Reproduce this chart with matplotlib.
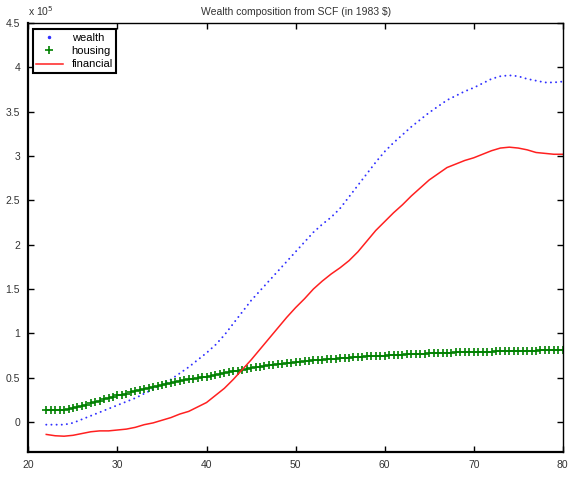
import numpy as np
import matplotlib
matplotlib.use("Agg")
import matplotlib.pyplot as plt
from matplotlib.lines import Line2D
from matplotlib.ticker import FuncFormatter

plt.rcParams['font.family'] = ['Liberation Sans', 'DejaVu Sans']

# ages (yearly) for wealth / financial, half-year for housing
age = list(range(22, 81))

# values in units of 1e5 (1983 $)
wealth = [-0.03, -0.03, -0.03, -0.01, 0.03, 0.07, 0.11, 0.15, 0.19, 0.23,
          0.27, 0.32, 0.37, 0.42, 0.48, 0.55, 0.62, 0.70, 0.78, 0.87,
          0.98, 1.11, 1.24, 1.37, 1.48, 1.59, 1.70, 1.81, 1.92, 2.03,
          2.14, 2.23, 2.31, 2.41, 2.54, 2.67, 2.80, 2.93, 3.05, 3.15,
          3.24, 3.33, 3.41, 3.49, 3.56, 3.63, 3.68, 3.73, 3.77, 3.82,
          3.87, 3.90, 3.91, 3.90, 3.87, 3.85, 3.83, 3.83, 3.84]

financial = [-0.14, -0.155, -0.16, -0.15, -0.13, -0.11, -0.10, -0.10, -0.09, -0.08,
             -0.06, -0.03, -0.01, 0.02, 0.05, 0.09, 0.12, 0.17, 0.22, 0.30,
             0.38, 0.48, 0.59, 0.70, 0.82, 0.94, 1.06, 1.18, 1.29, 1.39,
             1.50, 1.59, 1.67, 1.74, 1.82, 1.92, 2.04, 2.16, 2.26, 2.36,
             2.45, 2.55, 2.64, 2.73, 2.80, 2.87, 2.91, 2.95, 2.98, 3.02,
             3.06, 3.09, 3.10, 3.09, 3.07, 3.04, 3.03, 3.02, 3.02]

age_half = np.arange(22, 80.5, 0.5)
housing = [0.13, 0.13, 0.135, 0.135, 0.14, 0.15, 0.16, 0.17, 0.18, 0.195,
           0.21, 0.225, 0.24, 0.255, 0.27, 0.285, 0.30, 0.31, 0.32, 0.335,
           0.35, 0.36, 0.37, 0.385, 0.40, 0.41, 0.42, 0.43, 0.44, 0.45,
           0.46, 0.47, 0.48, 0.49, 0.50, 0.505, 0.51, 0.52, 0.53, 0.54,
           0.55, 0.56, 0.57, 0.58, 0.59, 0.60, 0.61, 0.615, 0.62, 0.63,
           0.64, 0.645, 0.65, 0.655, 0.66, 0.668, 0.675, 0.68, 0.685, 0.69,
           0.695, 0.70, 0.705, 0.708, 0.71, 0.715, 0.72, 0.722, 0.725, 0.728,
           0.73, 0.735, 0.74, 0.742, 0.745, 0.748, 0.75, 0.752, 0.755, 0.758,
           0.76, 0.762, 0.765, 0.768, 0.77, 0.772, 0.775, 0.778, 0.78, 0.781,
           0.782, 0.784, 0.785, 0.786, 0.787, 0.788, 0.79, 0.792, 0.793, 0.794,
           0.795, 0.797, 0.798, 0.799, 0.80, 0.801, 0.802, 0.804, 0.805, 0.805,
           0.806, 0.807, 0.808, 0.809, 0.81, 0.81, 0.81]

xticks = [20, 30, 40, 50, 60, 70, 80]
yticks = [0, 0.5, 1, 1.5, 2, 2.5, 3, 3.5, 4, 4.5]

fig = plt.figure(figsize=(5.69, 4.8), dpi=100)
ax = fig.add_axes([0.05, 0.058, 0.939, 0.894])

ax.plot(age, wealth, color='#3030ff', linestyle=(0, (0.05, 2.6)), linewidth=1.4,
        dash_capstyle='round')
ax.plot(age_half, housing, color='green', linestyle='none', marker='+',
        markersize=6, markeredgewidth=1.2)
ax.plot(age, financial, color='#ff2020', linewidth=1.1)

ax.set_xlim(20, 80)
ax.set_ylim(-0.34, 4.5)
ax.set_xticks(xticks)
ax.set_yticks(yticks)
ax.yaxis.set_major_formatter(FuncFormatter(lambda v, p: '%g' % v))
ax.tick_params(direction='in', top=True, right=True, length=4, width=1,
               labelsize=7.5, labelcolor='#333333', pad=6)
for s in ax.spines.values():
    s.set_linewidth(1.0)
ax.spines['left'].set_linewidth(1.6)
ax.spines['bottom'].set_linewidth(1.6)

ax.set_title('Wealth composition from SCF (in 1983 $)', fontsize=7.5,
             color='#333333', pad=6)
ax.text(0.0, 1.012, r'x 10$^5$', transform=ax.transAxes, fontsize=7.5,
        color='#333333', ha='left', va='bottom')

handles = [Line2D([], [], color='#3030ff', marker='.', markersize=3, linestyle='none'),
           Line2D([], [], color='green', marker='+', markersize=6, markeredgewidth=1.2,
                  linestyle='none'),
           Line2D([], [], color='#ff2020', linewidth=1.1)]
leg = ax.legend(handles, ['wealth', 'housing', 'financial'], loc='upper left',
                bbox_to_anchor=(0.008, 0.985), fontsize=8, fancybox=False,
                edgecolor='black', framealpha=1, handlelength=2.4, borderpad=0.3,
                labelspacing=0.3, handletextpad=0.8, borderaxespad=0.0)
leg.get_frame().set_linewidth(1.5)

fig.savefig('out.png', dpi=100)
